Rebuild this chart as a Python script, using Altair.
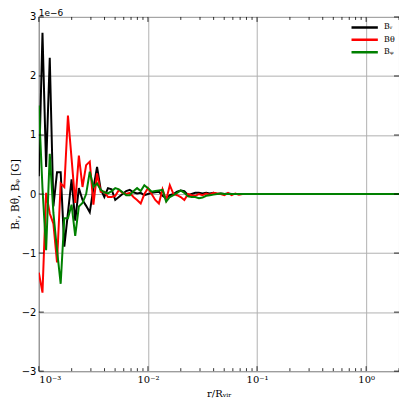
import altair as alt
import numpy as np
import pandas as pd

# radius grid (r / R_vir), log spaced sampling from 1e-3 to 2
n_pts = 100
r_vals = np.logspace(-3, np.log10(2.0), n_pts)

# field components in units of 1e-6 G
b_r = [0.3, 2.73, 0.46, 2.31, -0.21, 0.37, 0.37, -0.89, -0.32, 0.25,
       -0.45, 0.1, -0.1, -0.2, -0.31, 0.1, 0.46, 0.08, -0.05, 0.1,
       0.08, -0.1, -0.05, 0.0, 0.05, 0.07, 0.03, 0.01, 0.02, -0.02,
       0.0, 0.02, 0.03, 0.04, -0.03, -0.07, -0.02, 0.0, 0.04, 0.06,
       0.05, -0.02, 0.0, 0.02, 0.02, 0.01, 0.02, 0.01, 0.02, 0.0,
       0.01, 0.0, 0.01, 0.0, 0.0, 0.0, 0.0, 0.0, 0.0, 0.0]
b_theta = [-1.33, -1.67, 0.02, -0.33, -0.5, -1.16, 0.18, 0.12, 1.33, 0.6,
           -0.15, 0.65, 0.12, 0.49, 0.55, -0.18, 0.35, 0.04, 0.04, -0.05,
           -0.05, -0.03, 0.07, 0.02, 0.0, 0.02, -0.05, -0.1, -0.16, 0.0,
           0.1, 0.0, -0.1, -0.16, 0.08, -0.1, 0.15, 0.0, -0.02, -0.05,
           -0.1, 0.0, -0.02, -0.03, 0.0, -0.02, 0.01, -0.01, 0.02, 0.01,
           0.0, -0.02, 0.02, -0.02, 0.01, -0.01, 0.0, 0.0, 0.0, 0.0]
b_phi = [1.5, 0.1, -0.95, 0.68, -0.32, -0.95, -1.52, -0.41, -0.41, -0.18,
         -0.71, -0.21, -0.15, 0.0, 0.38, 0.12, 0.18, 0.07, 0.03, 0.01,
         0.05, 0.1, 0.08, 0.03, -0.02, -0.02, 0.05, 0.1, 0.05, 0.15,
         0.1, 0.04, 0.05, 0.06, 0.07, -0.13, -0.05, -0.02, 0.02, 0.06,
         0.02, -0.04, -0.05, -0.05, -0.07, -0.06, -0.03, -0.02, -0.01, 0.0,
         0.01, 0.0, 0.0, 0.0, 0.0, 0.0, 0.0, 0.0, 0.0, 0.0]
tail = [0.0] * (n_pts - 60)

series_names = ["Bᵣ", "Bθ", "Bᵩ"]
series_colors = ["#000000", "#ff0000", "#008000"]

x_major = [0.001, 0.01, 0.1, 1.0]
x_major_labels = ["10⁻³", "10⁻²", "10⁻¹", "10⁰"]
x_minor = [m * d for d in [0.001, 0.01, 0.1, 1.0] for m in range(2, 10) if m * d <= 2.0]
y_major = [-3, -2, -1, 0, 1, 2, 3]

W, H = 362, 356
xscale = alt.Scale(type="log", domain=[0.001, 2.0], nice=False)
yscale = alt.Scale(domain=[-3, 3], nice=False, zero=False)
cscale = alt.Scale(domain=series_names, range=series_colors)

label_expr = " : ".join(
    [f"datum.value == {v} ? '{l}'" for v, l in zip(x_major, x_major_labels)]
) + " : ''"

x_axis = alt.Axis(values=x_major, labelExpr=label_expr, title="r/Rᵥᵢᵣ",
                  grid=True, gridColor="#b0b0b0", gridWidth=1,
                  ticks=False, domain=False, labelFont="DejaVu Serif",
                  labelFontSize=10, labelColor="#000", labelPadding=3,
                  titleFont="DejaVu Serif", titleFontSize=10,
                  titleFontWeight="normal", titleColor="#000", titlePadding=4)
y_axis = alt.Axis(values=y_major,
                  labelExpr="datum.value < 0 ? '\u2212' + abs(datum.value) : '' + datum.value",
                  title="Bᵣ, Bθ, Bᵩ [G]", grid=True, gridColor="#b0b0b0",
                  gridWidth=1, ticks=False, domain=False,
                  labelFont="DejaVu Sans", labelFontSize=10, labelColor="#000",
                  labelPadding=3, titleFont="DejaVu Serif", titleFontSize=10.5,
                  titleFontWeight="normal", titleColor="#000", titlePadding=1)
legend = alt.Legend(title=None, orient="none", legendX=313, legendY=5,
                    symbolType="stroke", symbolSize=700, clipHeight=11,
                    symbolStrokeWidth=2.5, labelFont="DejaVu Serif",
                    labelFontSize=8, labelColor="#000", rowPadding=1.5,
                    labelOffset=5)

layers = []
for k, (name, vals) in enumerate(zip(series_names, [b_r, b_theta, b_phi])):
    full = vals + tail
    d = pd.DataFrame({"r": r_vals, "B": full, "comp": name})
    if k == 0:
        enc = dict(
            x=alt.X("r:Q", scale=xscale, axis=x_axis),
            y=alt.Y("B:Q", scale=yscale, axis=y_axis),
            color=alt.Color("comp:N", scale=cscale, legend=legend),
        )
    else:
        enc = dict(
            x=alt.X("r:Q", scale=xscale),
            y=alt.Y("B:Q", scale=yscale),
            color=alt.Color("comp:N", scale=cscale),
        )
    layers.append(alt.Chart(d).mark_line(strokeWidth=2, clip=True).encode(**enc))

# inward tick marks on the frame
xmaj_df = pd.DataFrame({"r": x_major})
xmin_df = pd.DataFrame({"r": x_minor})
ymaj_df = pd.DataFrame({"B": y_major})

def xticks(d, length):
    bot = alt.Chart(d).mark_rule(color="#000", strokeWidth=0.8).encode(
        x=alt.X("r:Q", scale=xscale), y=alt.value(H), y2=alt.value(H - length))
    top = alt.Chart(d).mark_rule(color="#000", strokeWidth=0.8).encode(
        x=alt.X("r:Q", scale=xscale), y=alt.value(0), y2=alt.value(length))
    return [bot, top]

yt_left = alt.Chart(ymaj_df).mark_rule(color="#000", strokeWidth=0.8).encode(
    y=alt.Y("B:Q", scale=yscale), x=alt.value(0), x2=alt.value(5))
yt_right = alt.Chart(ymaj_df).mark_rule(color="#000", strokeWidth=0.8).encode(
    y=alt.Y("B:Q", scale=yscale), x=alt.value(W), x2=alt.value(W - 5))

offset_txt = alt.Chart(pd.DataFrame({"t": ["1e\u22126"]})).mark_text(
    align="left", baseline="alphabetic", font="DejaVu Sans", fontSize=9, color="#000"
).encode(text="t:N", x=alt.value(0), y=alt.value(-1))

chart = alt.layer(
    *layers, *xticks(xmaj_df, 5), *xticks(xmin_df, 3), yt_left, yt_right, offset_txt
).properties(
    width=W, height=H,
    autosize=alt.AutoSizeParams(type="none"),
    padding={"left": 31, "top": 8, "right": 0, "bottom": 27},
).configure_view(stroke="#000", strokeWidth=1)

chart.save("out.html", embed_options={"renderer": "svg", "actions": False})
